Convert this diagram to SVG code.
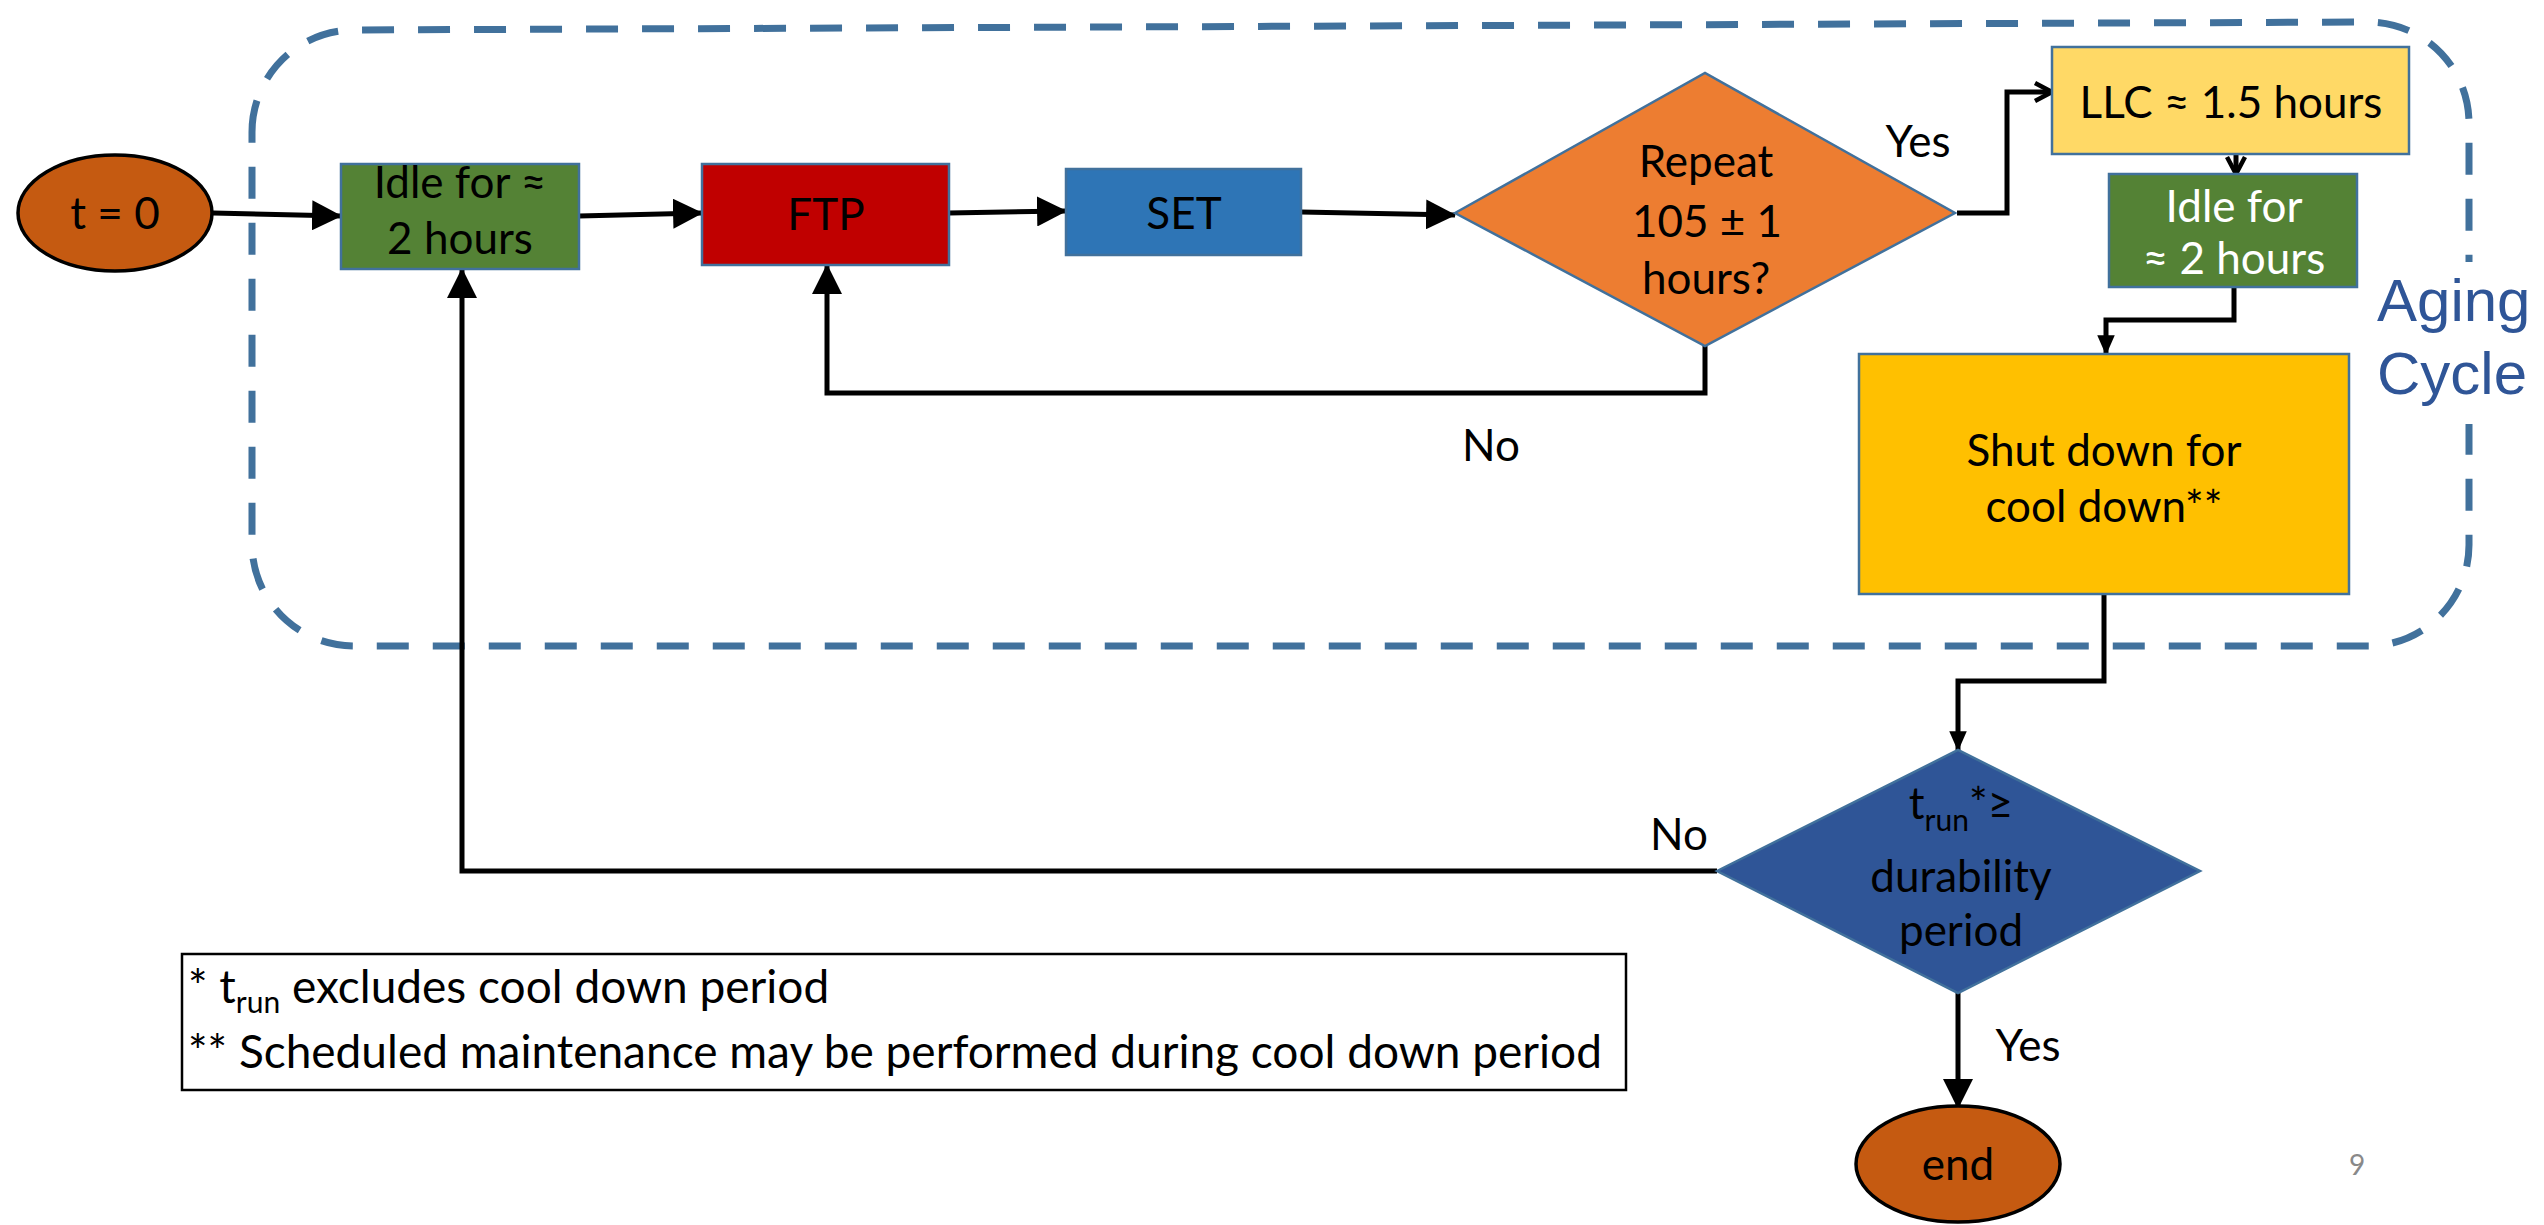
<svg xmlns="http://www.w3.org/2000/svg" width="2544" height="1225" viewBox="0 0 2544 1225">
<style>
.t{font-family:Lato,"Liberation Sans",sans-serif;font-size:44px;fill:#000;text-anchor:middle}
.w{fill:#fff}
.box{stroke:#41719C;stroke-width:2.5}
.ln{fill:none;stroke:#000;stroke-width:5}
.lnb{fill:none;stroke:#000;stroke-width:5.5}
.lg{font-family:Lato,"Liberation Sans",sans-serif;font-size:46px;fill:#000}
.ag{font-family:"Liberation Sans",Arial,sans-serif;font-size:60px;fill:#2F5597}
</style>
<defs>
<marker id="big" markerUnits="userSpaceOnUse" markerWidth="30" markerHeight="30" viewBox="0 0 28 28" refX="27" refY="14" orient="auto"><path d="M0,0 L28,14 L0,28 Z" fill="#000"/></marker>
<marker id="sm" markerUnits="userSpaceOnUse" markerWidth="20" markerHeight="20" viewBox="0 0 16 16" refX="15" refY="8" orient="auto"><path d="M0,1 L16,8 L0,15 Z" fill="#000"/></marker>
<marker id="open" markerUnits="userSpaceOnUse" markerWidth="24" markerHeight="24" viewBox="0 0 24 24" refX="21" refY="12" orient="auto"><path d="M4,3 L21,12 L4,21" fill="none" stroke="#000" stroke-width="4.5"/></marker>
</defs>
<rect width="2544" height="1225" fill="#fff"/>
<g id="aging-cycle-border">
<path d="M252,132 A102,102 0 0 1 354,30 L2368,22 A101,101 0 0 1 2469,123 L2469,545 A101,101 0 0 1 2368,646 L354,646 A102,102 0 0 1 252,544 Z" fill="none" stroke="#41719C" stroke-width="7" stroke-dasharray="32 24"/>
</g>
<g id="aging-cycle-label">
<rect x="2372" y="262" width="172" height="162" fill="#fff"/>
<text class="ag" x="2377" y="321">Aging</text>
<text class="ag" x="2377" y="394">Cycle</text>
</g>
<g id="connectors">
<path class="ln" d="M213,213 L341,216" marker-end="url(#big)"/>
<path class="ln" d="M579,216 L702,213" marker-end="url(#big)"/>
<path class="ln" d="M949,213 L1066,211" marker-end="url(#big)"/>
<path class="ln" d="M1301,212 L1455,215" marker-end="url(#big)"/>
<path class="ln" d="M1957,213 L2007,213 L2007,92 L2052,92" marker-end="url(#open)"/>
<path class="ln" d="M2236,154 L2236,174" marker-end="url(#open)"/>
<path class="ln" d="M2234,287 L2234,320 L2106,320 L2106,354" marker-end="url(#sm)"/>
<path class="ln" d="M1705,346 L1705,393 L827,393 L827,265" marker-end="url(#big)"/>
<path class="ln" d="M2104,594 L2104,681 L1958,681 L1958,750" marker-end="url(#sm)"/>
<path class="ln" d="M1717,871 L462,871 L462,269" marker-end="url(#big)"/>
<path class="ln" d="M1958,993 L1958,1108" marker-end="url(#big)"/>
<text class="t" x="1918" y="157">Yes</text>
<text class="t" x="1491" y="461">No</text>
<text class="t" x="1679" y="850">No</text>
<text class="t" x="2028" y="1061">Yes</text>
</g>
<g id="start">
<ellipse cx="115" cy="213" rx="97" ry="58" fill="#C55A11" stroke="#000" stroke-width="3.5"/>
<text class="t" x="115" y="229">t = 0</text>
</g>
<g id="idle1">
<rect class="box" x="341" y="164" width="238" height="105" fill="#548235"/>
<text class="t" x="460" y="198">Idle for ≈</text>
<text class="t" x="460" y="254">2 hours</text>
</g>
<g id="ftp">
<rect class="box" x="702" y="164" width="247" height="101" fill="#C00000"/>
<text class="t" x="826" y="230">FTP</text>
</g>
<g id="set">
<rect class="box" x="1066" y="169" width="235" height="86" fill="#2E75B6"/>
<text class="t" x="1184" y="229">SET</text>
</g>
<g id="repeat">
<path class="box" d="M1455,213 L1705,73 L1955,213 L1705,346 Z" fill="#ED7D31"/>
<text class="t" x="1706" y="177">Repeat</text>
<text class="t" x="1707" y="237">105 ± 1</text>
<text class="t" x="1706" y="294">hours?</text>
</g>
<g id="llc">
<rect class="box" x="2052" y="47" width="357" height="107" fill="#FFD966"/>
<text class="t" x="2231" y="118">LLC ≈ 1.5 hours</text>
</g>
<g id="idle2">
<rect class="box" x="2109" y="174" width="248" height="113" fill="#548235"/>
<text class="t w" x="2234" y="222">Idle for</text>
<text class="t w" x="2234" y="274">≈ 2 hours</text>
</g>
<g id="shutdown">
<rect class="box" x="1859" y="354" width="490" height="240" fill="#FFC000"/>
<text class="t" x="2104" y="466">Shut down for</text>
<text class="t" x="2104" y="522">cool down**</text>
</g>
<g id="trun">
<path class="box" d="M1717,871 L1958,750 L2200,871 L1958,993 Z" fill="#2F5597"/>
<text class="t" x="1961" y="819">t<tspan font-size="30" dy="12">run</tspan><tspan dy="-12">*≥</tspan></text>
<text class="t" x="1961" y="892">durability</text>
<text class="t" x="1961" y="946">period</text>
</g>
<g id="end">
<ellipse cx="1958" cy="1164" rx="102" ry="58" fill="#C55A11" stroke="#000" stroke-width="3.5"/>
<text class="t" x="1958" y="1180">end</text>
</g>
<g id="legend">
<rect x="182" y="954" width="1444" height="136" fill="#fff" stroke="#000" stroke-width="2.5"/>
<text class="lg" x="188" y="1003">* t<tspan font-size="30" dy="10">run</tspan><tspan dy="-10"> excludes cool down period</tspan></text>
<text class="lg" x="188" y="1068">** Scheduled maintenance may be performed during cool down period</text>
</g>
<g id="page-number">
<text x="2357" y="1175" font-family="Lato,'Liberation Sans',sans-serif" font-size="28" fill="#898989" text-anchor="middle">9</text>
</g>
</svg>
